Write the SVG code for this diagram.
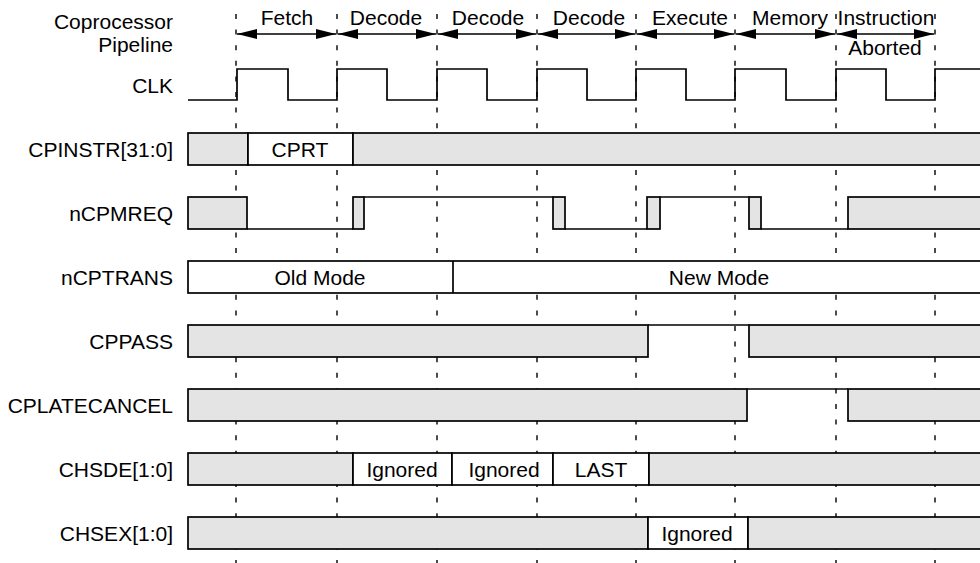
<svg xmlns="http://www.w3.org/2000/svg" width="980" height="563" viewBox="0 0 980 563">
<style>
text{font-family:"Liberation Sans",Arial,Helvetica,sans-serif;font-size:21px;fill:#000}
.lbl{text-anchor:end}
.c{text-anchor:middle}
.grid{stroke:#000;stroke-width:1.4;stroke-dasharray:5 10.6;fill:none}
.g{fill:#e4e4e4;stroke:#000;stroke-width:1.7}
.w{fill:#fff;stroke:#000;stroke-width:1.7}
.ln{fill:none;stroke:#000;stroke-width:1.7}
.arr{stroke:#000;stroke-width:1.4;fill:none;marker-start:url(#ah);marker-end:url(#ah)}
</style>
<defs>
<marker id="ah" markerUnits="userSpaceOnUse" markerWidth="20" markerHeight="10" refX="20" refY="5" orient="auto-start-reverse" viewBox="0 0 20 10">
<path d="M0,0 L20,5 L0,10 Z" fill="#000"/>
</marker>
</defs>
<rect width="980" height="563" fill="#fff"/>
<g id="gridlines">
<line class="grid" x1="236" y1="14" x2="236" y2="563"/>
<line class="grid" x1="337" y1="14" x2="337" y2="563"/>
<line class="grid" x1="437" y1="14" x2="437" y2="563"/>
<line class="grid" x1="537" y1="14" x2="537" y2="563"/>
<line class="grid" x1="636" y1="14" x2="636" y2="563"/>
<line class="grid" x1="735" y1="14" x2="735" y2="563"/>
<line class="grid" x1="836" y1="14" x2="836" y2="563"/>
<line class="grid" x1="935" y1="14" x2="935" y2="563"/>
</g>
<g id="pipeline">
<text class="lbl" x="173" y="29">Coprocessor</text>
<text class="lbl" x="173" y="52">Pipeline</text>
<text class="c" x="287" y="25">Fetch</text>
<text class="c" x="386" y="25">Decode</text>
<text class="c" x="488" y="25">Decode</text>
<text class="c" x="589" y="25">Decode</text>
<text class="c" x="690" y="25">Execute</text>
<text class="c" x="790" y="25">Memory</text>
<text class="c" x="886" y="25">Instruction</text>
<text class="c" x="885" y="55">Aborted</text>
</g>
<g id="connectors">
<line class="arr" x1="237" y1="34" x2="336" y2="34"/>
<line class="arr" x1="338" y1="34" x2="436" y2="34"/>
<line class="arr" x1="438" y1="34" x2="536" y2="34"/>
<line class="arr" x1="538" y1="34" x2="635" y2="34"/>
<line class="arr" x1="637" y1="34" x2="734" y2="34"/>
<line class="arr" x1="736" y1="34" x2="835" y2="34"/>
<line class="arr" x1="837" y1="34" x2="934" y2="34"/>
</g>
<g id="clk">
<text class="lbl" x="173" y="93">CLK</text>
<path class="ln" d="M188,100 H237 V69 H288 V100 H337 V69 H387 V100 H437 V69 H487 V100 H537 V69 H587 V100 H636 V69 H686 V100 H735 V69 H786 V100 H836 V69 H886 V100 H935 V69 H980"/>
</g>
<g id="cpinstr">
<text class="lbl" x="173" y="157">CPINSTR[31:0]</text>
<rect class="g" x="188" y="133" width="60" height="32"/>
<rect class="w" x="248" y="133" width="105" height="32"/>
<rect class="g" x="353" y="133" width="630" height="32"/>
<text class="c" x="300" y="157">CPRT</text>
</g>
<g id="ncpmreq">
<text class="lbl" x="173" y="221">nCPMREQ</text>
<rect class="g" x="188" y="197" width="59" height="32"/>
<path class="ln" d="M247,229 H353"/>
<rect class="g" x="353" y="197" width="11" height="32"/>
<path class="ln" d="M364,197 H553"/>
<rect class="g" x="553" y="197" width="12" height="32"/>
<path class="ln" d="M565,229 H647"/>
<rect class="g" x="647" y="197" width="13" height="32"/>
<path class="ln" d="M660,197 H749"/>
<rect class="g" x="749" y="197" width="12" height="32"/>
<path class="ln" d="M761,229 H848"/>
<rect class="g" x="848" y="197" width="135" height="32"/>
</g>
<g id="ncptrans">
<text class="lbl" x="173" y="285">nCPTRANS</text>
<rect class="w" x="188" y="261" width="795" height="32"/>
<path class="ln" d="M453,261 V293"/>
<text class="c" x="320" y="285">Old Mode</text>
<text class="c" x="719" y="285">New Mode</text>
</g>
<g id="cppass">
<text class="lbl" x="173" y="349">CPPASS</text>
<rect class="g" x="188" y="325" width="460" height="32"/>
<path class="ln" d="M648,325 H749"/>
<rect class="g" x="749" y="325" width="234" height="32"/>
</g>
<g id="cplatecancel">
<text class="lbl" x="173" y="413">CPLATECANCEL</text>
<rect class="g" x="188" y="389" width="559" height="32"/>
<path class="ln" d="M747,389 H848"/>
<rect class="g" x="848" y="389" width="135" height="32"/>
</g>
<g id="chsde">
<text class="lbl" x="173" y="477">CHSDE[1:0]</text>
<rect class="g" x="188" y="453" width="165" height="32"/>
<rect class="w" x="353" y="453" width="99" height="32"/>
<rect class="w" x="452" y="453" width="101" height="32"/>
<rect class="w" x="553" y="453" width="96" height="32"/>
<rect class="g" x="649" y="453" width="334" height="32"/>
<text class="c" x="402" y="477">Ignored</text>
<text class="c" x="504" y="477">Ignored</text>
<text class="c" x="601" y="477">LAST</text>
</g>
<g id="chsex">
<text class="lbl" x="173" y="541">CHSEX[1:0]</text>
<rect class="g" x="188" y="517" width="460" height="32"/>
<rect class="w" x="648" y="517" width="100" height="32"/>
<rect class="g" x="748" y="517" width="235" height="32"/>
<text class="c" x="697" y="541">Ignored</text>
</g>
</svg>
